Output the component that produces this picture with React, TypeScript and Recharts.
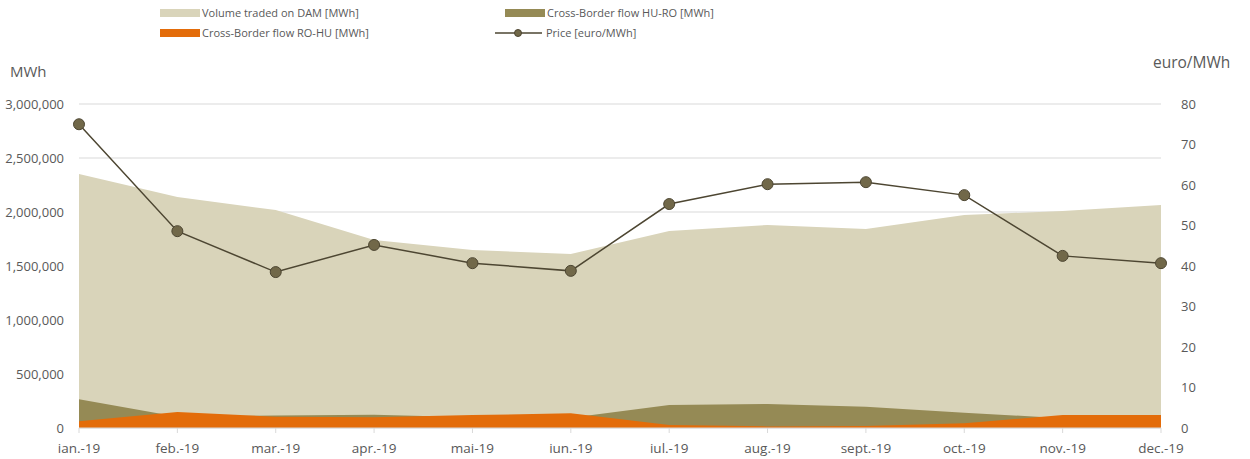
import React from "react";
import { ComposedChart, Area, Line, XAxis, YAxis, CartesianGrid } from "recharts";

const months = ["ian.-19", "feb.-19", "mar.-19", "apr.-19", "mai-19", "iun.-19", "iul.-19", "aug.-19", "sept.-19", "oct.-19", "nov.-19", "dec.-19"];
const volumeDAM = [2352000, 2139000, 2018000, 1741000, 1648000, 1611000, 1824000, 1880000, 1843000, 1972000, 2009000, 2065000];
const flowHURO = [266000, 105000, 115000, 123000, 100000, 95000, 213000, 222000, 197000, 142000, 90000, 90000];
const flowROHU = [62000, 148000, 105000, 99000, 120000, 136000, 28000, 15000, 18000, 43000, 120000, 120000];
const price = [75.0, 48.6, 38.5, 45.2, 40.7, 38.8, 55.3, 60.2, 60.7, 57.5, 42.5, 40.7];
const leftTicks = [0, 500000, 1000000, 1500000, 2000000, 2500000, 3000000];
const rightTicks = [0, 10, 20, 30, 40, 50, 60, 70, 80];

const data = months.map((m, i) => ({
  month: m,
  volume: volumeDAM[i],
  huro: flowHURO[i],
  rohu: flowROHU[i],
  price: price[i],
}));

const FONT = "'Open Sans', sans-serif";
const C_VOL = "#d9d4ba";
const C_HURO = "#958a55";
const C_ROHU = "#e36c0a";
const C_LINE = "#4d4632";
const C_DOT = "#716849";
const TXT = "#595959";

const fmt = (v: number) => v.toLocaleString("en-US");

export default function App() {
  return (
    <div style={{ position: "absolute", left: 0, top: 0, width: 1250, height: 459, fontFamily: FONT }}>
      <ComposedChart
        width={1250}
        height={459}
        data={data}
        margin={{ top: 104, right: 0, bottom: 1, left: 0 }}
      >
        <CartesianGrid yAxisId="left" vertical={false} stroke="#d9d9d9" strokeWidth={1} />
        <XAxis
          dataKey="month"
          height={30}
          padding={{ left: 0, right: 0 }}
          tick={{ fill: TXT, fontSize: 13.5, fontFamily: FONT }}
          tickLine={{ stroke: "#d9d9d9" }}
          tickSize={5}
          tickMargin={10}
          axisLine={{ stroke: "#d9d9d9" }}
          interval={0}
        />
        <YAxis
          yAxisId="left"
          width={79}
          domain={[0, 3000000]}
          ticks={leftTicks}
          tickFormatter={fmt}
          tick={{ fill: TXT, fontSize: 13, fontFamily: FONT }}
          axisLine={false}
          tickLine={false}
          tickMargin={9}
        />
        <YAxis
          yAxisId="right"
          orientation="right"
          width={89}
          domain={[0, 80]}
          ticks={rightTicks}
          tick={{ fill: TXT, fontSize: 13, fontFamily: FONT }}
          axisLine={false}
          tickLine={false}
          tickMargin={14}
        />
        <Area yAxisId="left" type="linear" dataKey="volume" stroke="none" fill={C_VOL} fillOpacity={1} isAnimationActive={false} />
        <Area yAxisId="left" type="linear" dataKey="huro" stroke="none" fill={C_HURO} fillOpacity={1} isAnimationActive={false} />
        <Area yAxisId="left" type="linear" dataKey="rohu" stroke="none" fill={C_ROHU} fillOpacity={1} isAnimationActive={false} />
        <Line
          yAxisId="right"
          type="linear"
          dataKey="price"
          stroke={C_LINE}
          strokeWidth={1.5}
          dot={{ r: 5.5, fill: C_DOT, stroke: C_LINE, strokeWidth: 1 }}
          isAnimationActive={false}
        />
      </ComposedChart>

      <div style={{ position: "absolute", left: 10, top: 61, fontSize: 15, color: TXT }}>MWh</div>
      <div style={{ position: "absolute", left: 1153, top: 51, fontSize: 15.5, color: TXT }}>euro/MWh</div>

      <div style={{ position: "absolute", left: 160, top: 5, fontSize: 11, color: TXT, display: "flex", alignItems: "center", whiteSpace: "nowrap" }}>
        <span style={{ display: "inline-block", width: 40, height: 8, background: C_VOL, marginRight: 2 }} />
        Volume traded on DAM [MWh]
      </div>
      <div style={{ position: "absolute", left: 505, top: 5, fontSize: 11, color: TXT, display: "flex", alignItems: "center", whiteSpace: "nowrap" }}>
        <span style={{ display: "inline-block", width: 40, height: 8, background: C_HURO, marginRight: 2 }} />
        Cross-Border flow HU-RO [MWh]
      </div>
      <div style={{ position: "absolute", left: 160, top: 25, fontSize: 11, color: TXT, display: "flex", alignItems: "center", whiteSpace: "nowrap" }}>
        <span style={{ display: "inline-block", width: 40, height: 8, background: C_ROHU, marginRight: 2 }} />
        Cross-Border flow RO-HU [MWh]
      </div>
      <div style={{ position: "absolute", left: 495, top: 25, fontSize: 11, color: TXT, display: "flex", alignItems: "center", whiteSpace: "nowrap" }}>
        <svg width={50} height={10} style={{ marginRight: 1 }}>
          <line x1={0} y1={5} x2={47} y2={5} stroke={C_LINE} strokeWidth={1.5} />
          <circle cx={23} cy={5} r={3.5} fill={C_DOT} stroke={C_LINE} strokeWidth={1} />
        </svg>
        Price [euro/MWh]
      </div>
    </div>
  );
}
